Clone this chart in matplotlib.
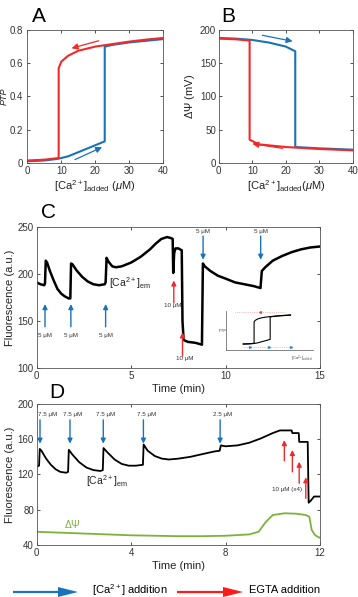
import numpy as np
import matplotlib
matplotlib.use("Agg")
import matplotlib.pyplot as plt
from matplotlib.patches import FancyArrow

plt.rcParams['font.family'] = ['Liberation Sans', 'DejaVu Sans']
plt.rcParams['mathtext.fontset'] = 'custom'
plt.rcParams['mathtext.rm'] = 'Liberation Sans'
plt.rcParams['mathtext.it'] = 'Liberation Sans:italic'

BLUE = '#1a72b8'
RED = '#f02a2a'
GREEN = '#7db23a'

# ---- panel A: PTP hysteresis
ca_up_lo = [0, 5, 9, 12, 15, 18, 21, 22.8]
ptp_up_lo = [0.01, 0.015, 0.025, 0.04, 0.065, 0.09, 0.115, 0.13]
ca_up_hi = [22.8, 25, 30, 35, 40]
ptp_up_hi = [0.70, 0.71, 0.725, 0.735, 0.745]
ca_dn_hi = [40, 35, 30, 25, 20, 15, 12, 10, 9.2]
ptp_dn_hi = [0.752, 0.742, 0.73, 0.715, 0.70, 0.675, 0.645, 0.61, 0.57]
ca_dn_lo = [9.2, 5, 0]
ptp_dn_lo = [0.03, 0.02, 0.015]

# ---- panel B: membrane potential hysteresis
ca_b_up = [0, 5, 10, 15, 20, 22.8, 22.8, 30, 40]
psi_b_up = [188, 187, 185, 181, 175, 168, 24, 22, 20]
ca_b_dn = [40, 30, 20, 12, 9.2, 9.2, 5, 0]
psi_b_dn = [19, 21, 24, 28, 35, 184, 186, 187]

# ---- panel C: fluorescence trace
t_c = [0.00, 0.20, 0.40, 0.44, 0.48, 0.55, 0.70, 0.90, 1.10, 1.30, 1.50, 1.70, 1.78,
       1.82, 1.90, 2.10, 2.40, 2.70, 3.00, 3.30, 3.60, 3.65, 3.70, 3.80, 4.00, 4.20,
       4.50, 5.00, 5.50, 6.00, 6.30, 6.60, 6.90, 7.10, 7.20, 7.23, 7.28, 7.35, 7.50,
       7.68, 7.72, 7.78, 8.00, 8.40, 8.75, 8.80, 8.90, 9.20, 9.60, 10.00, 10.50, 11.00,
       11.50, 11.85, 11.92, 12.10, 12.50, 13.00, 13.50, 14.00, 14.50, 15.00]
f_c = [191, 189, 188, 190, 214, 212, 203, 193, 184, 179, 176, 174, 174,
       211, 210, 204, 197, 192, 189, 188, 189, 191, 217, 213, 208, 207,
       208, 212, 218, 226, 232, 237, 239, 238, 237, 201, 222, 227, 227,
       225, 150, 130, 128, 127, 125, 211, 208, 203, 198, 195, 191, 189,
       187, 185, 203, 207, 214, 219, 223, 226, 228, 229]
c_ca_t = [0.44, 1.81, 3.65]
c_ca_dn_t = [8.81, 11.86]
c_egta_t = [7.26, 7.72]

# ---- panel D: fluorescence traces
t_d = [0.00, 0.10, 0.13, 0.20, 0.40, 0.60, 0.80, 1.00, 1.25, 1.33, 1.36, 1.50, 1.80,
       2.10, 2.40, 2.70, 2.80, 2.83, 3.00, 3.30, 3.60, 3.90, 4.20, 4.50, 4.53, 4.70,
       5.00, 5.30, 5.60, 6.00, 6.50, 7.00, 7.50, 7.75, 7.80, 8.00, 8.50, 9.00, 9.50,
       10.00, 10.30, 10.80, 10.83, 11.10, 11.12, 11.30, 11.48, 11.52, 11.60, 11.75, 12.00]
f_d = [129, 130, 149, 147, 138, 131, 126, 123, 122, 123, 148, 143, 134,
       128, 125, 124, 125, 150, 145, 137, 132, 130, 130, 131, 154, 147,
       141, 138, 137, 138, 140, 143, 146, 147, 153, 152, 153, 156, 161,
       167, 170, 170, 167, 167, 157, 157, 157, 88, 90, 95, 95]
t_psi = [0, 1, 2, 3, 4, 5, 6, 7, 8, 9, 9.4, 9.7, 10, 10.5, 11, 11.4, 11.55, 11.65, 11.8, 12]
f_psi = [55, 54, 53, 52, 51, 50.5, 50, 50, 50.5, 52, 55, 66, 74, 76, 75.5, 74, 72, 57, 51, 48]
d_ca_t = [0.14, 1.41, 2.82, 4.52, 7.77]
d_ca_lab = ['7.5 μM', '7.5 μM', '7.5 μM', '7.5 μM', '2.5 μM']
d_egta_t = [10.49, 10.83, 11.12, 11.40]
d_egta_tail = [135.6, 123, 110, 93]
d_egta_head = [159, 147.8, 134.5, 116.8]


def style(ax):
    ax.tick_params(direction='in', top=True, right=True, length=2.5, width=0.6,
                   labelsize=7, pad=2, colors='#333333')
    for s in ax.spines.values():
        s.set_linewidth(0.6)
        s.set_color('#555555')


def arr(ax, x0, y0, x1, y1, c, ms=8, lw=1.0):
    ax.annotate('', xy=(x1, y1), xytext=(x0, y0),
                arrowprops=dict(arrowstyle='-|>', color=c, lw=lw, mutation_scale=ms,
                                shrinkA=0, shrinkB=0))


fig = plt.figure(figsize=(3.58, 5.97), dpi=100)

# A
ax = fig.add_axes([0.0768, 0.727, 0.3785, 0.2228])
ax.plot(ca_up_lo + ca_up_hi, ptp_up_lo + ptp_up_hi, color=BLUE, lw=1.5)
ax.plot(ca_dn_hi + ca_dn_lo, ptp_dn_hi + ptp_dn_lo, color=RED, lw=1.5)
arr(ax, 21, 0.735, 13, 0.69, RED, ms=9, lw=0.9)
arr(ax, 14, 0.02, 22, 0.095, BLUE, ms=9, lw=0.9)
ax.set_xlim(0, 40)
ax.set_ylim(0, 0.8)
ax.set_xticks([0, 10, 20, 30, 40])
ax.set_yticks([0, 0.2, 0.4, 0.6, 0.8])
ax.set_yticklabels(['0', '0.2', '0.4', '0.6', '0.8'])
ax.set_xlabel(r'[Ca$^{2+}$]$_{\mathrm{added}}$ ($\mu$M)', fontsize=8, labelpad=2, color='#222222')
ax.set_ylabel('PTP', fontsize=6.5, style='italic', color='#222222')
style(ax)
ax.tick_params(axis='y', pad=3)
ax.yaxis.set_label_coords(-0.14, 0.5)

# B
ax = fig.add_axes([0.611, 0.727, 0.375, 0.2228])
ax.plot(ca_b_up, psi_b_up, color=BLUE, lw=1.5)
ax.plot(ca_b_dn, psi_b_dn, color=RED, lw=1.5)
arr(ax, 13, 192, 22, 183, BLUE, ms=9, lw=0.9)
arr(ax, 19, 22, 10, 29, RED, ms=9, lw=0.9)
ax.set_xlim(0, 40)
ax.set_ylim(0, 200)
ax.set_xticks([0, 10, 20, 30, 40])
ax.set_yticks([0, 50, 100, 150, 200])
ax.set_xlabel(r'[Ca$^{2+}$]$_{\mathrm{added}}$($\mu$M)', fontsize=8, labelpad=2, color='#222222')
ax.set_ylabel(r'$\Delta\Psi$ (mV)', fontsize=8, labelpad=2, color='#222222')
style(ax)

# C
ax = fig.add_axes([0.1025, 0.3831, 0.7913, 0.2372])
ax.plot(t_c, f_c, color='black', lw=1.8)
for t in c_ca_t:
    arr(ax, t, 144, t, 168, BLUE, ms=7, lw=1.0)
    ax.text(t, 135, '5 μM', fontsize=4.5, ha='center', va='center', color='#333333')
for t in c_ca_dn_t:
    arr(ax, t, 240, t, 215, BLUE, ms=7, lw=1.0)
    ax.text(t, 245, '5 μM', fontsize=4.5, ha='center', va='center', color='#333333')
arr(ax, c_egta_t[0], 169, c_egta_t[0], 193, RED, ms=7, lw=1.0)
ax.text(c_egta_t[0] - 0.05, 166, '10 μM', fontsize=4.5, ha='center', va='center', color='#333333')
arr(ax, c_egta_t[1], 113, c_egta_t[1], 138, RED, ms=7, lw=1.0)
ax.text(c_egta_t[1] + 0.12, 110, '10 μM', fontsize=4.5, ha='center', va='center', color='#333333')
ax.text(3.85, 190, r'[Ca$^{2+}$]$_{\mathrm{em}}$', fontsize=7.5, ha='left', va='center', color='#222222')
ax.set_xlim(0, 15)
ax.set_ylim(100, 250)
ax.set_xticks([0, 5, 10, 15])
ax.set_yticks([100, 150, 200, 250])
ax.set_xlabel('Time (min)', fontsize=8, labelpad=2, color='#222222')
ax.set_ylabel('Fluorescence (a.u.)', fontsize=8, labelpad=2, color='#222222')
style(ax)

# inset
ins = fig.add_axes([0.6304, 0.4137, 0.2439, 0.0653])
ins.plot(ca_up_lo + ca_up_hi, ptp_up_lo + ptp_up_hi, color='black', lw=0.8)
ins.plot(ca_dn_hi + ca_dn_lo, ptp_dn_hi + ptp_dn_lo, color='black', lw=0.8)
ins.plot([-7, 35], [0.83, 0.83], color=RED, lw=0.5, ls=':', alpha=0.6)
ins.plot([14], [0.83], marker='<', color=RED, ms=1.5, alpha=0.7)
ins.plot([0, 40], [-0.06, -0.06], color=BLUE, lw=0.5, ls=':', alpha=0.6)
ins.plot([6, 22, 40], [-0.06, -0.06, -0.06], marker='>', ls='none', color=BLUE, ms=1.5, alpha=0.7)
ins.set_xlim(-14.8, 59)
ins.set_ylim(-0.14, 0.85)
ins.set_xticks([])
ins.set_yticks([])
ins.patch.set_alpha(0)
for s in ['top', 'right']:
    ins.spines[s].set_visible(False)
for s in ['left', 'bottom']:
    ins.spines[s].set_linewidth(0.5)
    ins.spines[s].set_color('#555555')
ins.set_ylabel('PTP', fontsize=3, labelpad=2, color='#444444', rotation=0, va='center')
ins.text(1.0, -0.22, r'[Ca$^{2+}$]$_{\mathrm{added}}$', transform=ins.transAxes,
         fontsize=3, ha='right', va='center', color='#444444')

# D
ax = fig.add_axes([0.1025, 0.0871, 0.7913, 0.2362])
ax.plot(t_d, f_d, color='black', lw=1.3)
ax.plot(t_psi, f_psi, color=GREEN, lw=1.3)
for t, lab in zip(d_ca_t, d_ca_lab):
    arr(ax, t, 182, t, 155, BLUE, ms=7, lw=1.0)
    ax.text(t + (0.33 if t < 0.5 else 0.12), 188, lab, fontsize=4.5, ha='center',
            va='center', color='#333333')
for t, y0, y1 in zip(d_egta_t, d_egta_tail, d_egta_head):
    arr(ax, t, y0, t, y1, RED, ms=7, lw=1.0)
ax.text(10.6, 103, '10 μM (x4)', fontsize=4.5, ha='center', va='center', color='#333333')
ax.text(2.1, 112, r'[Ca$^{2+}$]$_{\mathrm{em}}$', fontsize=7.5, ha='left', va='center', color='#222222')
ax.text(1.5, 64, r'$\Delta\Psi$', fontsize=7.5, ha='center', va='center', color=GREEN)
ax.set_xlim(0, 12)
ax.set_ylim(40, 200)
ax.set_xticks([0, 4, 8, 12])
ax.set_yticks([40, 80, 120, 160, 200])
ax.set_xlabel('Time (min)', fontsize=8, labelpad=2, color='#222222')
ax.set_ylabel('Fluorescence (a.u.)', fontsize=8, labelpad=2, color='#222222')
style(ax)

# panel letters
for lab, x, y in [('A', 39, 16), ('B', 228, 16), ('C', 49, 213), ('D', 57, 393)]:
    fig.text(x / 358, 1 - y / 597, lab, fontsize=15, ha='center', va='center')

# legend arrows at the bottom
ov = fig.add_axes([0, 0, 1, 1])
ov.set_xlim(0, 358)
ov.set_ylim(597, 0)
ov.axis('off')
ov.patch.set_alpha(0)
ov.add_patch(FancyArrow(13, 592, 65, 0, width=2.2, head_width=10, head_length=20,
                        length_includes_head=True, color=BLUE, lw=0))
ov.add_patch(FancyArrow(177, 592, 66, 0, width=2.2, head_width=10, head_length=20,
                        length_includes_head=True, color='#ff1a1a', lw=0))
ov.text(130, 590, r'[Ca$^{2+}$] addition', fontsize=8, ha='center', va='center')
ov.text(285, 590, 'EGTA addition', fontsize=8, ha='center', va='center')

fig.savefig('out.png', dpi=100)
